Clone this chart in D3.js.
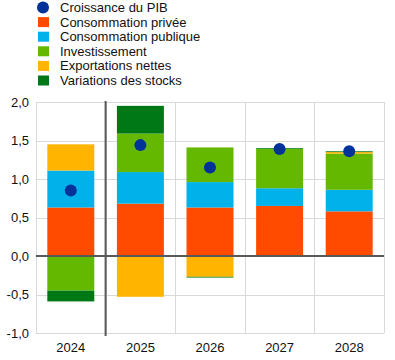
<!DOCTYPE html>
<html><head><meta charset="utf-8">
<script src="https://cdn.jsdelivr.net/npm/d3@7"></script>
<style>body{margin:0;background:#fff}svg{display:block;font-family:"Liberation Sans",Arial,sans-serif}</style>
</head><body>
<svg id="c" width="395" height="360"></svg>
<script>
const years = ["2024","2025","2026","2027","2028"];
const consPrivee  = [0.63, 0.68, 0.63, 0.65, 0.58];
const consPublique= [0.48, 0.41, 0.33, 0.23, 0.28];
const investissement=[-0.45, 0.50, 0.45, 0.51, 0.47];
const exportations= [0.34, -0.53, -0.27, 0.00, 0.02];
const stocks      = [-0.14, 0.36, -0.01, 0.01, 0.01];
const pib         = [0.85, 1.44, 1.15, 1.39, 1.36];
const yTicks = [-1.0,-0.5,0.0,0.5,1.0,1.5,2.0];
const seriesNames = ["Consommation privée","Consommation publique","Investissement","Exportations nettes","Variations des stocks"];
const seriesValues = [consPrivee, consPublique, investissement, exportations, stocks];
const colors = ["#FF4B00","#00B1EA","#65B800","#FFB400","#007816"];
const dotColor = "#003299";

const svg = d3.select("#c");
const x = d3.scaleBand().domain(years).range([36,384]).paddingInner(0.325).paddingOuter(0.1625);
const y = d3.scaleLinear().domain([-1,2]).range([333,102]);

const rows = years.map((yr,i)=>{const o={year:yr}; seriesNames.forEach((s,j)=>o[s]=seriesValues[j][i]); return o;});
const stack = d3.stack().keys(seriesNames).offset(d3.stackOffsetDiverging)(rows);

// grid
const g = svg.append("g");
g.selectAll(".hg").data(yTicks).join("line")
  .attr("x1",36).attr("x2",384).attr("y1",d=>Math.round(y(d))+0.5).attr("y2",d=>Math.round(y(d))+0.5)
  .attr("stroke","#d9d9d9").attr("stroke-width",1);
const step = x.step();
const bounds = d3.range(years.length+1).map(i=>36+i*step);
g.selectAll(".vg").data(bounds).join("line")
  .attr("x1",d=>Math.round(d)+0.5).attr("x2",d=>Math.round(d)+0.5).attr("y1",y(2)).attr("y2",y(-1))
  .attr("stroke","#d9d9d9").attr("stroke-width",1);

// bars
svg.append("g").selectAll("g").data(stack).join("g").attr("fill",(d,i)=>colors[i])
  .selectAll("rect").data(d=>d).join("rect")
  .attr("x",d=>x(d.data.year)).attr("width",x.bandwidth())
  .attr("y",d=>y(Math.max(d[0],d[1]))).attr("height",d=>Math.abs(y(d[0])-y(d[1])));

// zero line and separator
svg.append("line").attr("x1",36).attr("x2",384).attr("y1",y(0)).attr("y2",y(0)).attr("stroke","#595959").attr("stroke-width",2);
svg.append("line").attr("x1",bounds[1]).attr("x2",bounds[1]).attr("y1",y(2)-1).attr("y2",y(-1)+3).attr("stroke","#595959").attr("stroke-width",2);

// dots
svg.append("g").selectAll("circle").data(pib).join("circle")
  .attr("cx",(d,i)=>x(years[i])+x.bandwidth()/2).attr("cy",d=>y(d)).attr("r",6).attr("fill",dotColor);

// y labels
const fmt = d=>d3.format(".1f")(d).replace(".",",").replace("−","-");
svg.append("g").selectAll("text").data(yTicks).join("text")
  .attr("x",29).attr("y",d=>y(d)).attr("dy","0.35em").attr("text-anchor","end")
  .attr("font-size",13).attr("fill","#111").text(fmt);
// x labels
svg.append("g").selectAll("text").data(years).join("text")
  .attr("x",d=>x(d)+x.bandwidth()/2).attr("y",347).attr("dy","0.35em").attr("text-anchor","middle")
  .attr("font-size",13).attr("fill","#111").text(d=>d);

// legend
const leg = svg.append("g");
const legY = i=>7.5+i*14.6;
leg.append("circle").attr("cx",43).attr("cy",legY(0)).attr("r",6).attr("fill",dotColor);
leg.append("text").attr("x",60).attr("y",legY(0)).attr("dy","0.35em").attr("font-size",13).attr("fill","#111").text("Croissance du PIB");
seriesNames.forEach((s,i)=>{
  leg.append("rect").attr("x",38).attr("y",legY(i+1)-5).attr("width",11).attr("height",10).attr("fill",colors[i]);
  leg.append("text").attr("x",60).attr("y",legY(i+1)).attr("dy","0.35em").attr("font-size",13).attr("fill","#111").text(s);
});
</script>
</body></html>
